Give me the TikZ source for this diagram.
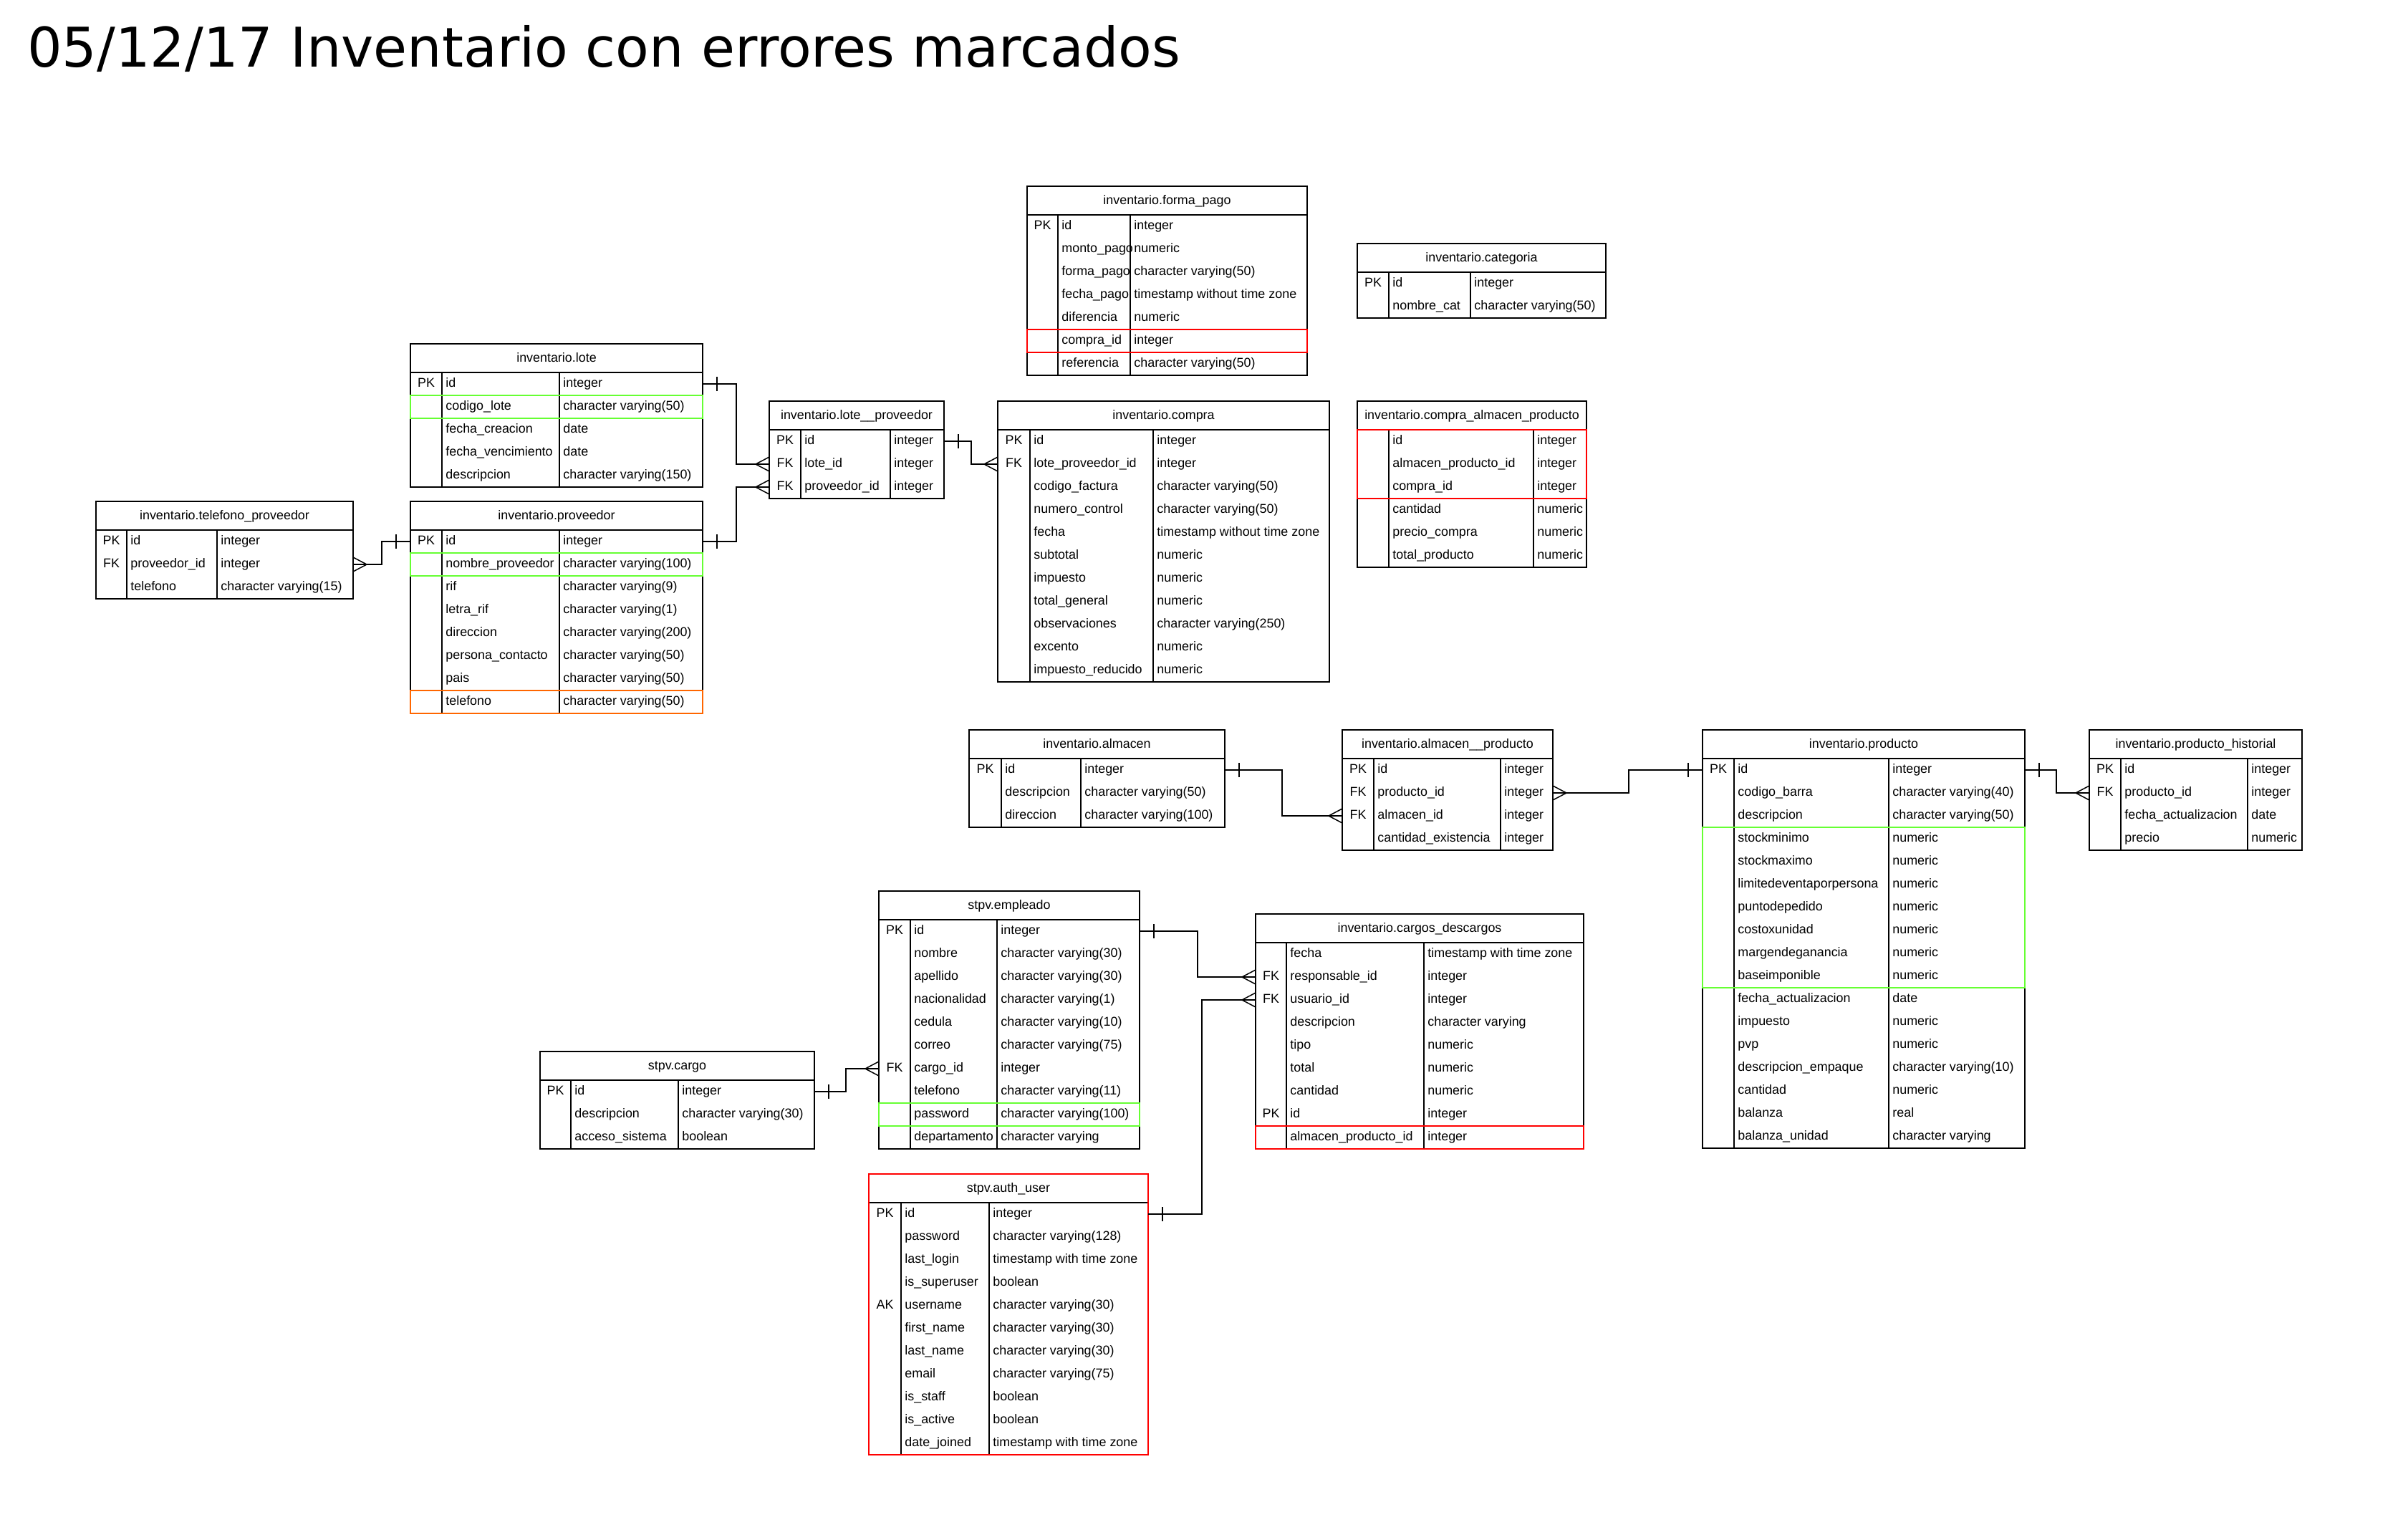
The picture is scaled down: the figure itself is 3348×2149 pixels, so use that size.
\documentclass[tikz,border=0pt]{standalone}
\usepackage{fontspec}
\setmainfont{Liberation Sans}
\newfontfamily\fuentetitulo{DejaVu Sans}
\usetikzlibrary{decorations.markings}
\definecolor{verdemarca}{HTML}{66FF33}
\definecolor{rojomarca}{HTML}{FF0000}
\definecolor{naranjamarca}{HTML}{FF6600}
\newcommand{\tabfont}{\fontsize{8.95pt}{10.7pt}\selectfont}

% #1 nombre, #2 x, #3 y, #4 ancho, #5 col1, #6 col2, #7 filas, #8 titulo, #9 campos
\newcommand{\tabla}[9]{%
  \node[caja, minimum width={#4*0.5pt}, minimum height={(40+32*#7)*0.5pt}] (#1) at (#2,#3) {};
  \node[cabecera] (#1-t) at ({#2+#4/2},{#3+25}) {#8};
  \draw[linea] (#2,{#3+40}) -- ++(#4,0);
  \draw[linea] ({#2+#5},{#3+40}) -- ++(0,{32*#7});
  \draw[linea] ({#2+#6},{#3+40}) -- ++(0,{32*#7});
  \foreach \cla/\nom/\tipo [count=\i] in {#9} {
    \node[fila, minimum width={#4*0.5pt}] (#1-\i) at (#2,{#3+24+32*\i}) {};
    \node[clave] (#1-k\i) at ({#2+#5/2},{#3+28+32*\i}) {\cla};
    \node[campo] (#1-n\i) at ({#2+#5+5},{#3+28+32*\i}) {\nom};
    \node[campo] (#1-d\i) at ({#2+#6+5},{#3+28+32*\i}) {\tipo};
  }
}

\begin{document}
\begin{tikzpicture}[x=0.5pt,y=-0.5pt]
    \tikzstyle{caja}=[draw,line width=0.85pt,anchor=north west,inner sep=0pt,outer sep=0pt];
    \tikzstyle{cabecera}=[anchor=base,font=\tabfont,inner sep=0pt];
    \tikzstyle{fila}=[anchor=west,minimum height=16pt,inner sep=0pt,outer sep=0pt];
    \tikzstyle{clave}=[anchor=base,font=\tabfont,inner sep=0pt];
    \tikzstyle{campo}=[anchor=base west,font=\tabfont,inner sep=0pt];
    \tikzstyle{linea}=[line width=0.85pt];
    \tikzstyle{verde}=[draw=verdemarca,line width=1.3pt];
    \tikzstyle{roja}=[draw=rojomarca,line width=1.3pt];
    \tikzstyle{naranja}=[draw=naranjamarca,line width=1.3pt];
    \tikzstyle{rel}=[draw,line width=0.75pt,postaction={decorate},
      decoration={markings,
        mark=at position 10pt with {\draw[line width=0.75pt] (0,-5pt) -- (0,5pt);},
        mark=at position -9.5pt with {\draw[line width=0.75pt] (9.5pt,5pt) -- (0,0) -- (9.5pt,-5pt);}}];
    \useasboundingbox (0,0) rectangle (3348,2149);

    \node[anchor=base west,inner sep=0pt,font=\fuentetitulo\fontsize{38.2pt}{46pt}\selectfont] (titulo) at (38,93) {05/12/17 Inventario con errores marcados};

    \tabla{fp}{1434}{260}{391}{43}{144}{7}{inventario.forma\_pago}{PK/id/integer, /monto\_pago/numeric, /forma\_pago/character varying(50), /fecha\_pago/timestamp without time zone, /diferencia/numeric, /compra\_id/integer, /referencia/character varying(50)}
    \tabla{cat}{1895}{340}{347}{44}{158}{2}{inventario.categoria}{PK/id/integer, /nombre\_cat/character varying(50)}
    \tabla{lote}{573}{480}{408}{44}{208}{5}{inventario.lote}{PK/id/integer, /codigo\_lote/character varying(50), /fecha\_creacion/date, /fecha\_vencimiento/date, /descripcion/character varying(150)}
    \tabla{tp}{134}{700}{359}{43}{169}{3}{inventario.telefono\_proveedor}{PK/id/integer, FK/proveedor\_id/integer, /telefono/character varying(15)}
    \tabla{prov}{573}{700}{408}{44}{208}{8}{inventario.proveedor}{PK/id/integer, /nombre\_proveedor/character varying(100), /rif/character varying(9), /letra\_rif/character varying(1), /direccion/character varying(200), /persona\_contacto/character varying(50), /pais/character varying(50), /telefono/character varying(50)}
    \tabla{lp}{1074}{560}{244}{44}{169}{3}{inventario.lote\_\_proveedor}{PK/id/integer, FK/lote\_id/integer, FK/proveedor\_id/integer}
    \tabla{compra}{1393}{560}{463}{45}{217}{11}{inventario.compra}{PK/id/integer, FK/lote\_proveedor\_id/integer, /codigo\_factura/character varying(50), /numero\_control/character varying(50), /fecha/timestamp without time zone, /subtotal/numeric, /impuesto/numeric, /total\_general/numeric, /observaciones/character varying(250), /excento/numeric, /impuesto\_reducido/numeric}
    \tabla{cap}{1895}{560}{320}{44}{246}{6}{inventario.compra\_almacen\_producto}{/id/integer, /almacen\_producto\_id/integer, /compra\_id/integer, /cantidad/numeric, /precio\_compra/numeric, /total\_producto/numeric}
    \tabla{alm}{1353}{1019}{357}{45}{156}{3}{inventario.almacen}{PK/id/integer, /descripcion/character varying(50), /direccion/character varying(100)}
    \tabla{ap}{1874}{1019}{294}{44}{221}{4}{inventario.almacen\_\_producto}{PK/id/integer, FK/producto\_id/integer, FK/almacen\_id/integer, /cantidad\_existencia/integer}
    \tabla{prod}{2377}{1019}{450}{44}{260}{17}{inventario.producto}{PK/id/integer, /codigo\_barra/character varying(40), /descripcion/character varying(50), /stockminimo/numeric, /stockmaximo/numeric, /limitedeventaporpersona/numeric, /puntodepedido/numeric, /costoxunidad/numeric, /margendeganancia/numeric, /baseimponible/numeric, /fecha\_actualizacion/date, /impuesto/numeric, /pvp/numeric, /descripcion\_empaque/character varying(10), /cantidad/numeric, /balanza/real, /balanza\_unidad/character varying}
    \tabla{ph}{2917}{1019}{297}{44}{221}{4}{inventario.producto\_historial}{PK/id/integer, FK/producto\_id/integer, /fecha\_actualizacion/date, /precio/numeric}
    \tabla{emp}{1227}{1244}{364}{44}{165}{10}{stpv.empleado}{PK/id/integer, /nombre/character varying(30), /apellido/character varying(30), /nacionalidad/character varying(1), /cedula/character varying(10), /correo/character varying(75), FK/cargo\_id/integer, /telefono/character varying(11), /password/character varying(100), /departamento/character varying}
    \tabla{cargo}{754}{1468}{383}{43}{193}{3}{stpv.cargo}{PK/id/integer, /descripcion/character varying(30), /acceso\_sistema/boolean}
    \tabla{cd}{1753}{1276}{458}{43}{235}{9}{inventario.cargos\_descargos}{/fecha/timestamp with time zone, FK/responsable\_id/integer, FK/usuario\_id/integer, /descripcion/character varying, /tipo/numeric, /total/numeric, /cantidad/numeric, PK/id/integer, /almacen\_producto\_id/integer}
    \tabla{au}{1213}{1639}{390}{45}{168}{11}{stpv.auth\_user}{PK/id/integer, /password/character varying(128), /last\_login/timestamp with time zone, /is\_superuser/boolean, AK/username/character varying(30), /first\_name/character varying(30), /last\_name/character varying(30), /email/character varying(75), /is\_staff/boolean, /is\_active/boolean, /date\_joined/timestamp with time zone}

    \draw[roja] (fp-6.north west) rectangle (fp-6.south east);
    \draw[verde] (lote-2.north west) rectangle (lote-2.south east);
    \draw[verde] (prov-2.north west) rectangle (prov-2.south east);
    \draw[naranja] (prov-8.north west) rectangle (prov-8.south east);
    \draw[roja] (cap-1.north west) rectangle (cap-3.south east);
    \draw[verde] (prod-4.north west) rectangle (prod-10.south east);
    \draw[verde] (emp-9.north west) rectangle (emp-9.south east);
    \draw[roja] (cd-9.north west) rectangle (cd-9.south east);
    \draw[roja] (au.north west) rectangle (au.south east);

    \draw[rel] (lote-1.east) -| (1028,600) |- (lp-2.west);
    \draw[rel] (prov-1.east) -| (1028,700) |- (lp-3.west);
    \draw[rel] (prov-1.west) -| (533,770) |- (tp-2.east);
    \draw[rel] (lp-1.east) -| (1356,630) |- (compra-2.west);
    \draw[rel] (alm-1.east) -| (1790,1100) |- (ap-3.west);
    \draw[rel] (prod-1.west) -| (2274,1090) |- (ap-2.east);
    \draw[rel] (prod-1.east) -| (2871,1090) |- (ph-2.west);
    \draw[rel] (cargo-1.east) -| (1181,1510) |- (emp-7.west);
    \draw[rel] (emp-1.east) -| (1672,1330) |- (cd-2.west);
    \draw[rel] (au-1.east) -| (1678,1500) |- (cd-3.west);
\end{tikzpicture}
\end{document}
